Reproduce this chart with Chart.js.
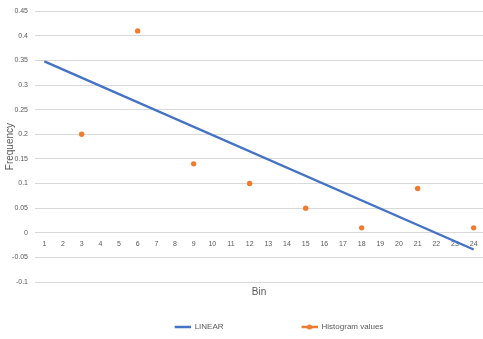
<!DOCTYPE html>
<html>
<head>
<meta charset="utf-8">
<script src="https://cdn.jsdelivr.net/npm/chart.js@4/dist/chart.umd.min.js"></script>
<style>
  html, body { margin: 0; padding: 0; background: #ffffff; overflow: hidden; }
  #wrap { width: 483px; height: 339px; position: relative; }
</style>
</head>
<body>
<div id="wrap"><canvas id="c"></canvas></div>
<script>
// Bin numbers along the category axis
const bins = ['1','2','3','4','5','6','7','8','9','10','11','12','13','14','15','16','17','18','19','20','21','22','23','24'];

// Observed histogram frequencies (every third bin)
const histogramValues = [null, null, 0.20, null, null, 0.41, null, null, 0.14, null, null, 0.10,
                         null, null, 0.05, null, null, 0.01, null, null, 0.09, null, null, 0.01];

// Linear fit line: values at its two ends, joined across the gaps
const linearValues = [0.348, null, null, null, null, null, null, null, null, null, null, null,
                      null, null, null, null, null, null, null, null, null, null, null, -0.034];

// Value axis range and step
const yMin = -0.1, yMax = 0.45, yStep = 0.05;

const BLUE = '#4472C4';
const ORANGE = '#ED7D31';
const GREY_TEXT = '#595959';
const FONT = "'Liberation Sans', Arial, sans-serif";

// Legend swatches. Each is a wide transparent strip with the sample drawn
// at its right end, which leaves a gap between consecutive legend entries.
const SWATCH_W = 84, SAMPLE_W = 16;
function swatch(color, withDot) {
  const c = document.createElement('canvas');
  c.width = SWATCH_W; c.height = 8;
  const g = c.getContext('2d');
  const x0 = SWATCH_W - SAMPLE_W;
  g.strokeStyle = color;
  g.lineWidth = 2.5;
  g.beginPath(); g.moveTo(x0, 4); g.lineTo(SWATCH_W, 4); g.stroke();
  if (withDot) {
    g.fillStyle = color;
    g.beginPath(); g.arc(x0 + SAMPLE_W / 2, 4, 2.6, 0, Math.PI * 2); g.fill();
  }
  return c;
}
const legendSwatches = [swatch(BLUE, false), swatch(ORANGE, true)];

// Nudges the legend row sideways so it sits under the plot
const legendShift = {
  id: 'legendShift',
  afterLayout(chart) {
    if (chart.legend) { chart.legend.left += 5; }
  }
};

new Chart(document.getElementById('c'), {
  type: 'line',
  data: {
    labels: bins,
    datasets: [
      {
        label: 'LINEAR',
        data: linearValues,
        borderColor: BLUE,
        backgroundColor: BLUE,
        borderWidth: 2.4,
        pointRadius: 0,
        spanGaps: true
      },
      {
        label: 'Histogram values',
        data: histogramValues,
        showLine: false,
        borderColor: ORANGE,
        backgroundColor: ORANGE,
        pointRadius: 2.7,
        pointBorderWidth: 0,
        pointStyle: 'circle'
      }
    ]
  },
  options: {
    responsive: true,
    maintainAspectRatio: false,
    animation: false,
    devicePixelRatio: 1,
    layout: { autoPadding: false, padding: { top: 7, right: -2, bottom: -2, left: 0 } },
    scales: {
      x: {
        type: 'category',
        position: { y: 0 },
        offset: true,
        afterFit(scale) { scale.paddingLeft = 0; scale.paddingRight = 0; },
        grid: { display: false, drawTicks: false },
        border: { display: false },
        ticks: {
          autoSkip: false,
          maxRotation: 0,
          padding: 7,
          color: GREY_TEXT,
          font: { family: FONT, size: 7 }
        }
      },
      y: {
        min: yMin,
        max: yMax,
        afterFit(scale) { scale.width = 35; },
        grid: { color: '#d9d9d9', lineWidth: 1, drawTicks: false },
        border: { display: false },
        ticks: {
          stepSize: yStep,
          padding: 7,
          color: GREY_TEXT,
          font: { family: FONT, size: 7 },
          callback: (v) => String(Number(v.toFixed(2)))
        },
        title: {
          display: true,
          text: 'Frequency',
          color: GREY_TEXT,
          font: { family: FONT, size: 10 },
          padding: { top: 4, bottom: 0 }
        }
      }
    },
    plugins: {
      tooltip: { enabled: false },
      title: {
        display: true,
        text: 'Bin',
        position: 'bottom',
        fullSize: false,
        weight: 500,
        color: GREY_TEXT,
        font: { family: FONT, size: 10, weight: 'normal' },
        padding: { top: 4, bottom: 15 }
      },
      legend: {
        position: 'bottom',
        weight: 1000,
        labels: {
          usePointStyle: true,
          pointStyleWidth: SWATCH_W,
          boxHeight: 8,
          padding: 10,
          color: GREY_TEXT,
          font: { family: FONT, size: 8 },
          generateLabels(chart) {
            const items = Chart.defaults.plugins.legend.labels.generateLabels(chart);
            items.forEach((it) => { it.pointStyle = legendSwatches[it.datasetIndex]; });
            return items;
          }
        }
      }
    }
  },
  plugins: [legendShift]
});
</script>
</body>
</html>
